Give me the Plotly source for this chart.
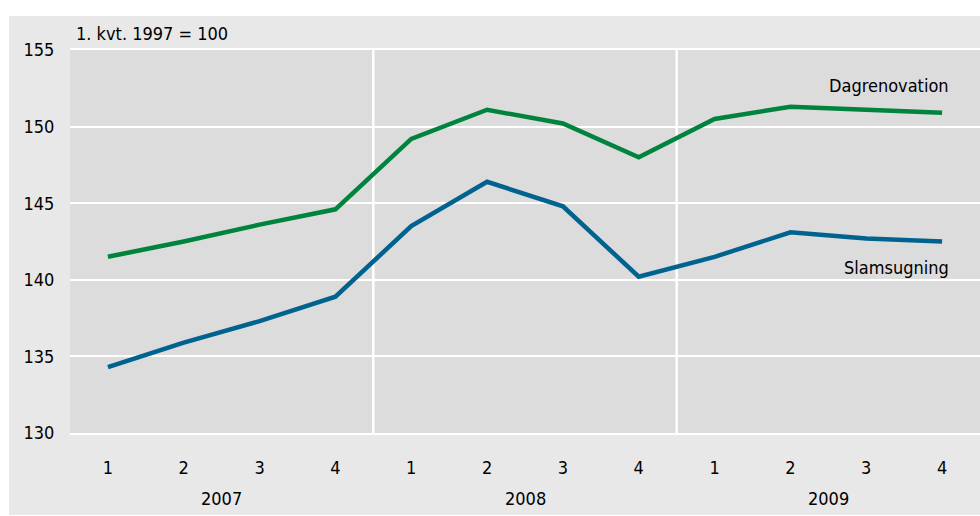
import plotly.graph_objects as go

years = ["2007", "2008", "2009"]
quarters = ["1", "2", "3", "4"]
dagrenovation = [141.5, 142.5, 143.6, 144.6, 149.2, 151.1, 150.2, 148.0, 150.5, 151.3, 151.1, 150.9]
slamsugning = [134.3, 135.9, 137.3, 138.9, 143.5, 146.4, 144.8, 140.2, 141.5, 143.1, 142.7, 142.5]
y_ticks = [130, 135, 140, 145, 150, 155]
unit_label = "1. kvt. 1997 = 100"

GREEN = "#00843d"
BLUE = "#00628f"
FONT = "Liberation Sans Narrow, DejaVu Sans Condensed, Arial Narrow, sans-serif"
FS = 18

n = len(years) * len(quarters)
xs = list(range(n))
ticktext = quarters * len(years)

fig = go.Figure()
fig.add_trace(go.Scatter(x=xs, y=dagrenovation, mode="lines", line=dict(color=GREEN, width=4.5),
                         name="Dagrenovation", hoverinfo="skip"))
fig.add_trace(go.Scatter(x=xs, y=slamsugning, mode="lines", line=dict(color=BLUE, width=4.5),
                         name="Slamsugning", hoverinfo="skip"))

# outer grey frame
fig.add_shape(type="rect", xref="paper", yref="paper", x0=-0.067, x1=1.0, y0=-0.214, y1=1.089,
              fillcolor="#e8e8e8", line=dict(width=0), layer="below")
# plot area background
fig.add_shape(type="rect", xref="paper", yref="paper", x0=0, x1=1, y0=0, y1=1,
              fillcolor="#dcdcdc", line=dict(width=0), layer="below")

# year separators
for i in range(1, len(years)):
    sep = i * len(quarters) - 0.5
    fig.add_shape(type="line", xref="x", yref="paper", x0=sep, x1=sep, y0=0, y1=1,
                  line=dict(color="white", width=2.5), layer="below")

# year labels
for i, yr in enumerate(years):
    center = i * len(quarters) + (len(quarters) - 1) / 2
    fig.add_annotation(x=center, y=0, xref="x", yref="paper", text=yr, showarrow=False,
                       yanchor="middle", yshift=-65, font=dict(family=FONT, size=FS, color="black"))

# series labels
fig.add_annotation(x=xs[-1], y=dagrenovation[-1], text="Dagrenovation", showarrow=False,
                   xanchor="right", yanchor="middle", xshift=9, yshift=27,
                   font=dict(family=FONT, size=FS, color="black"))
fig.add_annotation(x=xs[-1], y=slamsugning[-1], text="Slamsugning", showarrow=False,
                   xanchor="right", yanchor="middle", xshift=9, yshift=-26,
                   font=dict(family=FONT, size=FS, color="black"))

fig.add_annotation(x=0, y=1, xref="paper", yref="paper", text=unit_label, showarrow=False,
                   xanchor="left", yanchor="middle", xshift=4, yshift=17,
                   font=dict(family=FONT, size=FS, color="black"))

fig.update_layout(
    width=980, height=516,
    margin=dict(l=70, r=0, t=50, b=83),
    paper_bgcolor="white", plot_bgcolor="#dcdcdc",
    showlegend=False,
    font=dict(family=FONT, size=FS, color="black"),
    xaxis=dict(range=[-0.5, n - 0.5], tickmode="array", tickvals=xs, ticktext=ticktext,
               showgrid=False, zeroline=False, ticks="outside", ticklen=17,
               tickcolor="rgba(0,0,0,0)",
               showline=True, linecolor="white", linewidth=2, mirror=True,
               fixedrange=True),
    yaxis=dict(range=[y_ticks[0], y_ticks[-1]], tickmode="array", tickvals=y_ticks,
               showgrid=True, gridcolor="white", gridwidth=2, zeroline=False,
               ticks="outside", ticklen=11, tickcolor="rgba(0,0,0,0)", fixedrange=True),
)

fig.write_html("out.html", config={"displayModeBar": False, "staticPlot": True},
               post_script="document.body.style.margin='0';document.body.style.overflow='hidden';")
